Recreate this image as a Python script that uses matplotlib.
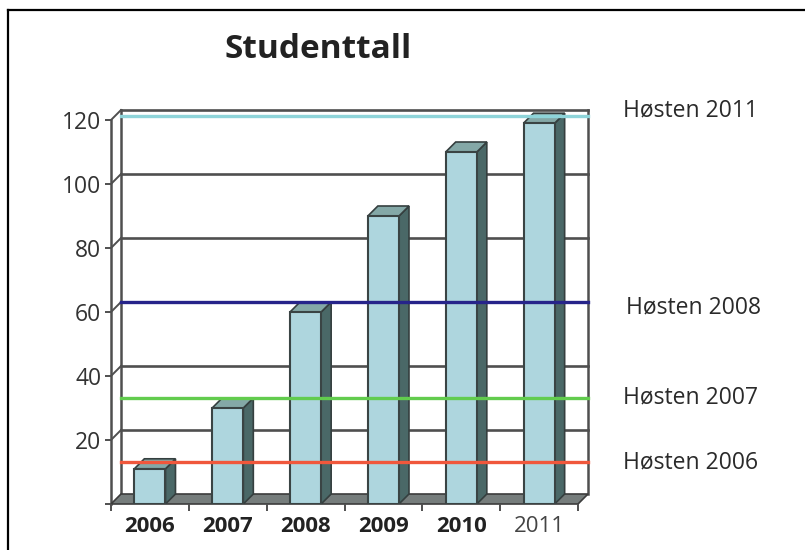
import matplotlib
matplotlib.use('Agg')
import matplotlib.pyplot as plt
from matplotlib.patches import Polygon, Rectangle
from matplotlib.lines import Line2D

# Data
years = ['2006', '2007', '2008', '2009', '2010', '2011']
students = [11, 30, 60, 90, 110, 119]
yticks = [0, 20, 40, 60, 80, 100, 120]
mark_values = [10, 30, 60, 118]
mark_labels = ['Høsten 2006', 'Høsten 2007', 'Høsten 2008', 'Høsten 2011']
mark_colors = ['#f0573c', '#62cc4e', '#26248a', '#8ed4d9']

plt.rcParams['font.family'] = ['Open Sans', 'DejaVu Sans']

W, H = 805, 550
fig = plt.figure(figsize=(W/100, H/100), dpi=100)

# plot box in pixels (front-left bottom to back-right top)
px_left, px_right = 111, 588
px_bottom, px_top = 504, 110
depth = 10                      # 3d depth in pixels
n = len(years)
ymax = yticks[-1]
unit_x = (px_right - px_left - depth) / n
unit_y = (px_bottom - px_top - depth) / ymax
dx = depth / unit_x
dy = depth / unit_y

ax = fig.add_axes([px_left/W, (H - px_bottom)/H, (px_right - px_left)/W, (px_bottom - px_top)/H])
ax.set_xlim(0, n + dx)
ax.set_ylim(0, ymax + dy)
for s in ax.spines.values():
    s.set_visible(False)

grid_c = '#4f4f4f'
# back wall and left wall gridlines
for v in yticks[1:]:
    ax.plot([dx, n + dx], [v + dy, v + dy], color=grid_c, lw=1.9, zorder=1, clip_on=False)
    ax.plot([0, dx], [v, v + dy], color=grid_c, lw=1.4, zorder=1, clip_on=False)
ax.plot([0, 0], [0, ymax], color=grid_c, lw=1.8, zorder=1, clip_on=False)
ax.plot([dx, dx], [dy, ymax + dy], color=grid_c, lw=1.8, zorder=1, clip_on=False)
ax.plot([n + dx, n + dx], [dy, ymax + dy], color=grid_c, lw=1.8, zorder=1, clip_on=False)

# floor
floor = Polygon([(0, 0), (n, 0), (n + dx, dy), (dx, dy)], closed=True,
                facecolor='#767d7c', edgecolor='#3c3c3c', lw=1.2, zorder=1.5, clip_on=False)
ax.add_patch(floor)

# bars
w = 0.2
for i, v in enumerate(students):
    c = i + 0.5
    front = Rectangle((c - w, 0), 2*w, v, facecolor='#aed6de', edgecolor='#3a4444', lw=1.5, zorder=3)
    side = Polygon([(c + w, 0), (c + w + dx, dy), (c + w + dx, v + dy), (c + w, v)], closed=True,
                   facecolor='#4a6867', edgecolor='#353f3f', lw=1.2, zorder=2.5)
    top = Polygon([(c - w, v), (c + w, v), (c + w + dx, v + dy), (c - w + dx, v + dy)], closed=True,
                  facecolor='#84a8a7', edgecolor='#353f3f', lw=1.2, zorder=2.5)
    ax.add_patch(side)
    ax.add_patch(top)
    ax.add_patch(front)

# marker lines on top
for v, col in zip(mark_values, mark_colors):
    ax.plot([dx, n + dx], [v + dy, v + dy], color=col, lw=2.4, zorder=5, clip_on=False)

ax.set_yticks(yticks)
ax.set_yticklabels([''] + [str(t) for t in yticks[1:]], fontsize=16.5, color='#333333')
ax.tick_params(axis='y', length=4, width=1.4, color=grid_c, pad=3)

ax.set_xticks([i + 0.5 for i in range(n)])
ax.set_xticklabels(years, fontsize=16, fontweight='bold', color='#222222')
ax.xaxis.get_ticklabels()[-1].set_fontweight('normal')
ax.xaxis.get_ticklabels()[-1].set_color('#444444')
ax.set_xticks(range(n + 1), minor=True)
ax.tick_params(axis='x', which='major', length=0, pad=9)
ax.tick_params(axis='x', which='minor', length=5, width=1.4, color=grid_c)

fig.text(318/W, 1 - 49/H, 'Studenttall', fontsize=24, fontweight='bold', color='#222222',
         ha='center', va='center')

label_pos = [(623, 462), (623, 397), (626, 307), (623, 110)]
for (x, y), lab in zip(label_pos, mark_labels):
    fig.text(x/W, 1 - y/H, lab, fontsize=16.5, color='#2a2a2a', ha='left', va='center')

# frame of the cropped picture
fig.add_artist(Line2D([8/W, 1], [1 - 10/H, 1 - 10/H], color='black', lw=1.6, transform=fig.transFigure))
fig.add_artist(Line2D([8/W, 8/W], [0, 1 - 10/H], color='black', lw=1.6, transform=fig.transFigure))

fig.savefig('out.png', dpi=100, facecolor='white')
